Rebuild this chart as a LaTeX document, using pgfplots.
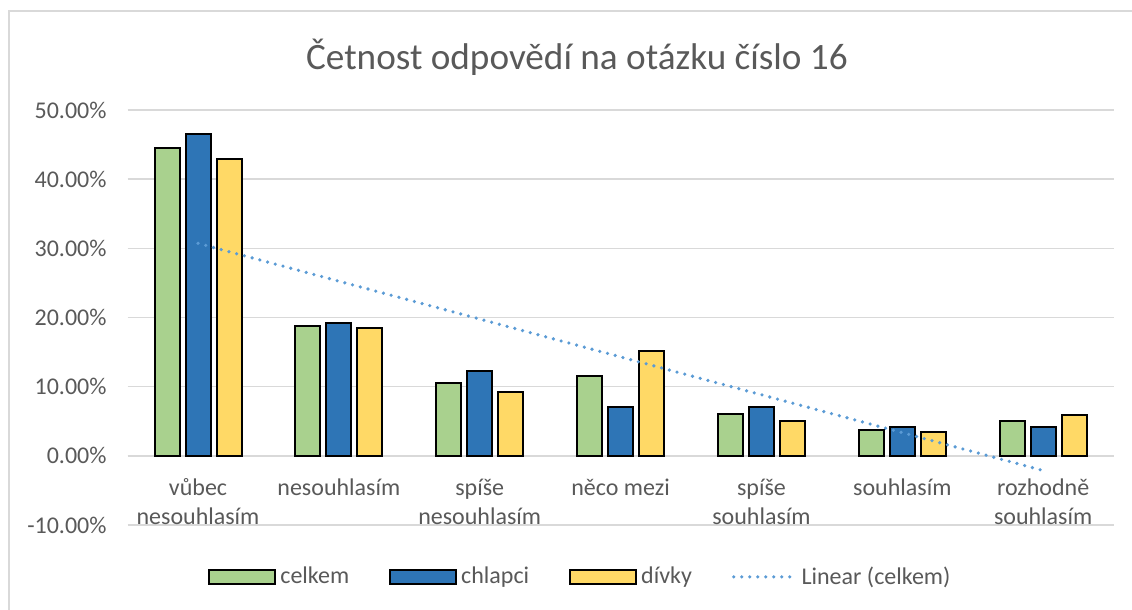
\documentclass[border=0pt]{standalone}
\usepackage{fontspec}
\setmainfont{Carlito}
\usepackage{pgfplots}
\usepackage{pgfplotstable}
\pgfplotsset{compat=1.18}

\definecolor{cGreen}{HTML}{A9D18E}
\definecolor{cBlue}{HTML}{2E75B6}
\definecolor{cYellow}{HTML}{FFD966}
\definecolor{cTrend}{HTML}{5B9BD5}
\definecolor{cGrid}{HTML}{D9D9D9}
\definecolor{cText}{HTML}{595959}

\pgfplotsset{
    boxlegend/.style={legend image code/.code={\draw[##1] (0pt,-3.5pt) rectangle (33pt,3.5pt);}},
    linelegend/.style={legend image code/.code={\draw[##1] (0pt,0pt) -- (31pt,0pt);}},
    sloupec/.style={ybar, bar width=12.5pt, draw=black, line width=1pt, boxlegend},
}

% podil odpovedi v procentech
\pgfplotstableread{
x celkem chlapci divky
1 44.5 46.5 42.9
2 18.8 19.2 18.5
3 10.6 12.2 9.25
4 11.5 7.1 15.2
5 6.0 7.1 5.0
6 3.7 4.1 3.4
7 5.0 4.1 5.9
}\odpovedi

\begin{document}
\begin{tikzpicture}
% ramecek grafu (px * 0.5pt)
\path[use as bounding box] (0pt,0pt) rectangle (566pt,-305pt);
\draw[cGrid, line width=0.75pt] (4.5pt,-310pt) -- (4.5pt,-5.5pt) -- (570pt,-5.5pt);
\node[cText, font=\fontsize{18.6pt}{22pt}\selectfont] at (288.5pt,-28.5pt) {Četnost odpovědí na otázku číslo 16};

\begin{axis}[
    at={(63.8pt,-262.5pt)}, anchor=south west,
    scale only axis,
    width=493pt, height=207.5pt,
    xmin=0.5, xmax=7.5,
    ymin=-10, ymax=50,
    axis x line*=middle,
    axis y line*=left,
    x axis line style={draw=cGrid, line width=0.75pt, -},
    y axis line style={draw=none},
    major tick length=0pt,
    xtick={1,...,7},
    xticklabels={vůbec\\nesouhlasím, nesouhlasím, spíše\\nesouhlasím, něco mezi, spíše\\souhlasím, souhlasím, rozhodně\\souhlasím},
    xticklabel style={align=center, font=\fontsize{12pt}{14.5pt}\selectfont, text=cText, yshift=-8pt},
    ytick distance=10,
    yticklabel={\pgfmathprintnumber[fixed, fixed zerofill, precision=2, assume math mode=true]{\tick}\%},
    yticklabel style={font=\fontsize{12pt}{14.5pt}\selectfont, text=cText, xshift=-7pt},
    ymajorgrids=true,
    grid style={draw=cGrid, line width=0.75pt},
    legend columns=4,
    legend style={at={(axis description cs:0.0815,-0.125)}, anchor=west, draw=none, inner sep=0pt,
        font=\fontsize{12pt}{14.5pt}\selectfont, text=cText,
        /tikz/every even column/.append style={column sep=18pt}},
]
\addplot[sloupec, bar shift=-15.5pt, fill=cGreen] table[x=x, y=celkem] {\odpovedi};
\addlegendentry{celkem}
\addplot[sloupec, bar shift=0pt, fill=cBlue] table[x=x, y=chlapci] {\odpovedi};
\addlegendentry{chlapci}
\addplot[sloupec, bar shift=15.5pt, fill=cYellow] table[x=x, y=divky] {\odpovedi};
\addlegendentry{dívky}
% linearni trend celkem
\addplot[cTrend, line width=1.8pt, line cap=round, dash pattern=on 0pt off 4pt, mark=none, linelegend]
    table[x=x, y={create col/linear regression={y=celkem}}] {\odpovedi};
\addlegendentry{Linear (celkem)}
\end{axis}
\end{tikzpicture}
\end{document}
